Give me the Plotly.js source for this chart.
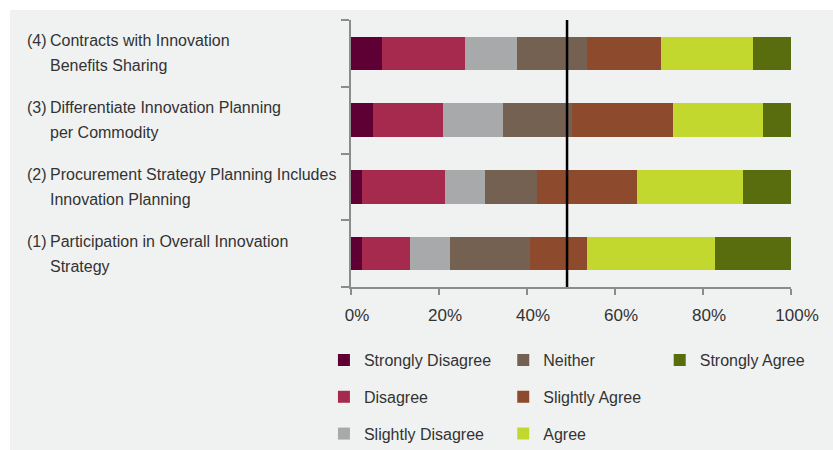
<!DOCTYPE html>
<html>
<head>
<meta charset="utf-8">
<script src="https://cdn.plot.ly/plotly-3.0.1.min.js"></script>
<style>
  html, body { margin: 0; padding: 0; background: #ffffff; }
  #chart { position: absolute; left: 10px; top: 10px; width: 823px; height: 440px; }
</style>
</head>
<body>
<div id="chart"></div>
<script>
// rows from bottom to top
const itemNumbers = ["(1)", "(2)", "(3)", "(4)"];
const itemFirstLines = [
  "Participation in Overall Innovation",
  "Procurement Strategy Planning Includes",
  "Differentiate Innovation Planning",
  "Contracts with Innovation"
];
const itemSecondLines = [
  "Strategy",
  "Innovation Planning",
  "per Commodity",
  "Benefits Sharing"
];

const seriesNames = [
  "Strongly Disagree",
  "Disagree",
  "Slightly Disagree",
  "Neither",
  "Slightly Agree",
  "Agree",
  "Strongly Agree"
];

const stronglyDisagree = [2.5, 2.5, 4.9, 7.1];
const disagree = [10.8, 18.9, 15.9, 18.9];
const slightlyDisagree = [9.3, 9.1, 13.8, 11.7];
const neither = [18.0, 11.8, 15.7, 16.0];
const slightlyAgree = [13.1, 22.8, 22.9, 16.7];
const agree = [29.0, 23.9, 20.4, 20.9];
const stronglyAgree = [17.3, 11.0, 6.4, 8.7];

const averageLine = 49.1;

const tickValues = [0, 20, 40, 60, 80, 100];

const seriesValues = [
  stronglyDisagree, disagree, slightlyDisagree, neither,
  slightlyAgree, agree, stronglyAgree
];

const seriesColors = [
  "#5e0033", "#a52a4e", "#a7a9ab", "#756152",
  "#8e4a2c", "#c3d82e", "#5a6d0e"
];

// which legend column each series goes into
const legendSlots = ["legend", "legend", "legend", "legend2", "legend2", "legend2", "legend3"];

const fontFamily = "'Liberation Sans', Arial, sans-serif";
const textColor = "#333333";

const categories = itemFirstLines;

const traces = seriesNames.map((name, i) => ({
  type: "bar",
  orientation: "h",
  name: name,
  x: seriesValues[i],
  y: categories,
  width: 0.5,
  legend: legendSlots[i],
  legendgroup: name,
  marker: { color: seriesColors[i], line: { width: 0 } },
  hoverinfo: "x+name"
}));

// category labels: number, first line, indented second line
const labelFont = { family: fontFamily, size: 16, color: textColor };
const labelAnnotations = [];
categories.forEach((cat, i) => {
  const base = {
    xref: "paper",
    yref: "y",
    y: cat,
    showarrow: false,
    xanchor: "left",
    yanchor: "middle",
    align: "left",
    font: labelFont
  };
  labelAnnotations.push({ ...base, x: -0.742, yshift: 12.5, text: itemNumbers[i] });
  labelAnnotations.push({ ...base, x: -0.688, yshift: 12.5, text: itemFirstLines[i] });
  labelAnnotations.push({ ...base, x: -0.688, yshift: -12.5, text: itemSecondLines[i] });
});

const legendBase = {
  orientation: "v",
  xref: "paper",
  yref: "container",
  yanchor: "top",
  y: 0.243,
  xanchor: "left",
  bgcolor: "rgba(0,0,0,0)",
  borderwidth: 0,
  traceorder: "grouped",
  tracegroupgap: 13,
  itemclick: false,
  font: { family: fontFamily, size: 16, color: textColor }
};

const layout = {
  width: 823,
  height: 440,
  margin: { l: 341, r: 42, t: 10, b: 163 },
  paper_bgcolor: "#f0f2f1",
  plot_bgcolor: "#f0f2f1",
  barmode: "stack",
  bargap: 0.5,
  font: { family: fontFamily, size: 16, color: textColor },
  xaxis: {
    range: [0, 100],
    tickvals: tickValues,
    ticktext: tickValues.map((v) => v + "%"),
    showgrid: false,
    zeroline: false,
    showline: true,
    linecolor: "#8c8c8c",
    linewidth: 1.5,
    ticks: "outside",
    ticklen: 6,
    tickwidth: 1.5,
    tickcolor: "#8c8c8c",
    ticklabelstandoff: 6,
    ticklabelshift: 6,
    tickfont: { family: fontFamily, size: 17, color: textColor },
    automargin: false,
    fixedrange: true
  },
  yaxis: {
    type: "category",
    categoryorder: "array",
    categoryarray: categories,
    showticklabels: false,
    showgrid: false,
    zeroline: false,
    showline: true,
    linecolor: "#8c8c8c",
    linewidth: 1.5,
    ticks: "outside",
    tickson: "boundaries",
    ticklen: 8,
    tickwidth: 1.5,
    tickcolor: "#8c8c8c",
    automargin: false,
    fixedrange: true
  },
  shapes: [
    {
      type: "line",
      xref: "x",
      yref: "paper",
      x0: averageLine,
      x1: averageLine,
      y0: 0,
      y1: 1,
      line: { color: "#000000", width: 2.5 }
    }
  ],
  annotations: labelAnnotations,
  legend: { ...legendBase, x: -0.0615 },
  legend2: { ...legendBase, x: 0.346 },
  legend3: { ...legendBase, x: 0.7016 },
  showlegend: true
};

Plotly.newPlot("chart", traces, layout, { displayModeBar: false, staticPlot: false });
</script>
</body>
</html>
